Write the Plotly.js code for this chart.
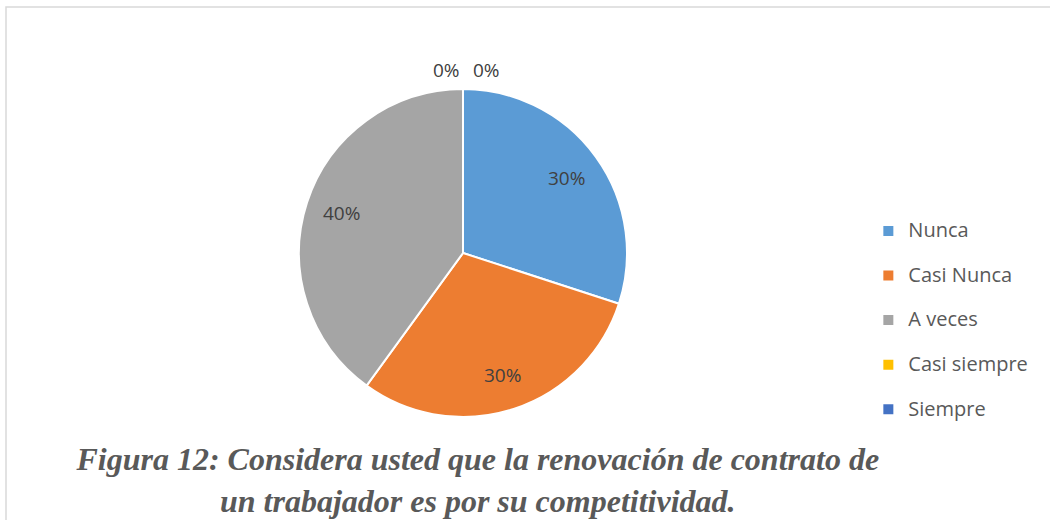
<!DOCTYPE html>
<html>
<head>
<meta charset="utf-8">
<script src="https://cdn.plot.ly/plotly-3.0.1.min.js"></script>
<style>
  html, body { margin: 0; padding: 0; background: #fff; }
  #grafico { width: 1050px; height: 520px; }
</style>
</head>
<body>
<div id="grafico"></div>
<script>
const categorias = ['Nunca', 'Casi Nunca', 'A veces', 'Casi siempre', 'Siempre'];
const porcentajes = [30, 30, 40, 0, 0];
const colores = ['#5B9BD5', '#ED7D31', '#A5A5A5', '#FFC000', '#4472C4'];
const titulo = 'Figura 12: Considera usted que la renovación de contrato de<br>un trabajador es por su competitividad.';

// geometria del pastel (px)
const W = 1050, H = 520;
const cx = 463, cy = 253, R = 164;

// etiquetas de porcentaje como en Excel (a ~0.78 del radio, en el angulo medio)
const total = porcentajes.reduce((s, v) => s + v, 0);
let acum = 0;
const anotaciones = [];
let ceros = 0;
porcentajes.forEach((v, i) => {
  const medio = (acum + v / 2) / total * 2 * Math.PI;
  acum += v;
  let r = 0.78 * R, dx = 0;
  if (v === 0) {
    r = R + 19;
    dx = ceros === 0 ? -16 : 24;
    ceros++;
  }
  const px = cx + r * Math.sin(medio);
  const py = cy - r * Math.cos(medio);
  anotaciones.push({
    x: px / W, y: 1 - py / H, xref: 'paper', yref: 'paper',
    xanchor: 'center', yanchor: 'middle',
    xshift: dx,
    text: Math.round(v / total * 100) + '%',
    showarrow: false,
    font: { family: 'Open Sans, sans-serif', size: 19, color: '#404040' }
  });
});

const trace = {
  type: 'pie',
  labels: categorias.map(c => '<span style="font-size:20px">' + c + '</span><br> '),
  values: porcentajes,
  sort: false,
  direction: 'clockwise',
  rotation: 0,
  marker: { colors: colores, line: { color: '#ffffff', width: 2 } },
  textinfo: 'none',
  domain: { x: [(cx - R) / W, (cx + R) / W], y: [(H - cy - R) / H, (H - cy + R) / H] },
  hoverinfo: 'percent'
};

const layout = {
  width: W,
  height: H,
  margin: { l: 0, r: 0, t: 0, b: 0 },
  paper_bgcolor: '#ffffff',
  showlegend: true,
  legend: {
    x: 0.827, xanchor: 'left',
    y: 1 - 214 / H, yanchor: 'top',
    valign: 'top',
    font: { family: 'Open Sans, sans-serif', size: 16, color: '#595959' },
    tracegroupgap: 0
  },
  title: {
    text: titulo,
    x: 0.455, xanchor: 'center',
    y: 1 - 470 / H, yanchor: 'top',
    font: { family: 'Liberation Serif, serif', size: 32, color: '#595959', weight: 'bold', style: 'italic' }
  },
  annotations: anotaciones,
  shapes: [{
    type: 'rect', xref: 'paper', yref: 'paper',
    x0: 6 / W, x1: 1.05, y0: -0.05, y1: 1 - 7 / H,
    line: { color: '#d9d9d9', width: 1.5 }
  }]
};

Plotly.newPlot('grafico', [trace], layout, { displayModeBar: false });
</script>
</body>
</html>
